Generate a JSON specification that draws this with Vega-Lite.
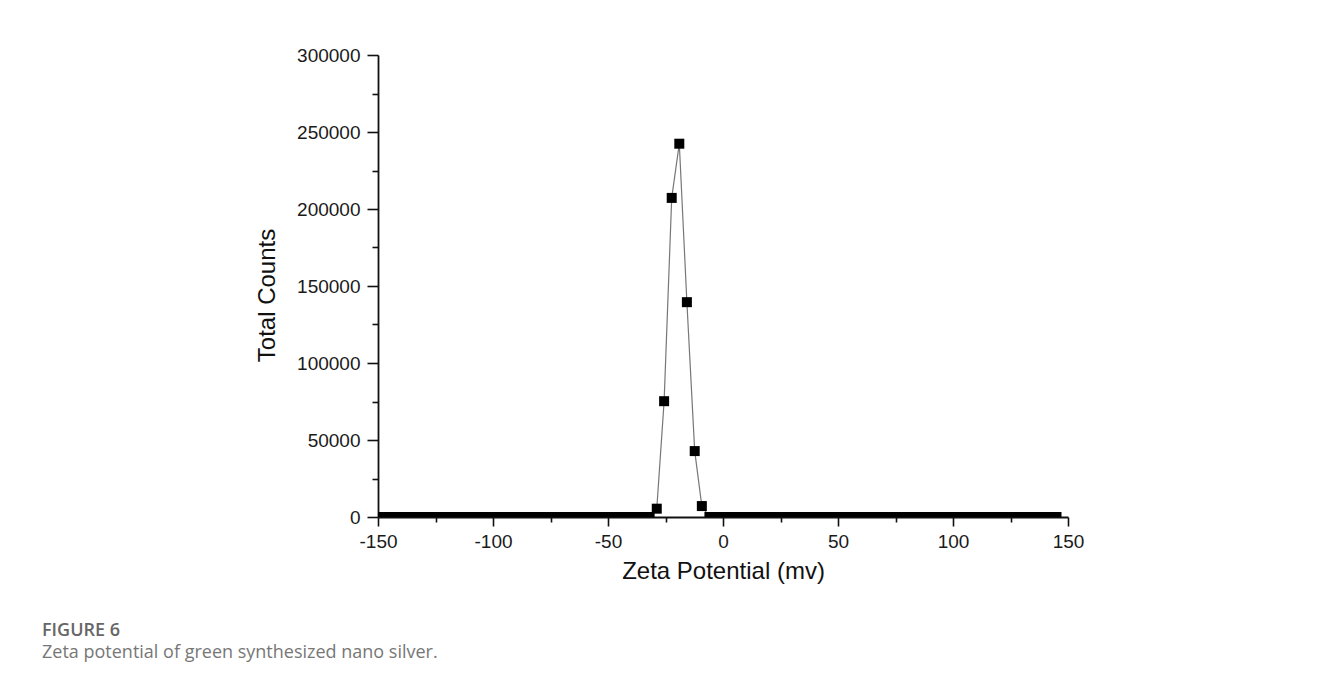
{
  "$schema": "https://vega.github.io/schema/vega-lite/v6.json",
  "width": 690,
  "height": 462,
  "autosize": {"type": "none"},
  "padding": {"left": 378, "top": 55, "right": 254, "bottom": 164},
  "background": "white",
  "config": {
    "view": {"stroke": null},
    "axis": {
      "labelFont": "Liberation Sans",
      "titleFont": "Liberation Sans",
      "labelFontSize": 19,
      "titleFontSize": 24,
      "titleFontWeight": "normal",
      "labelColor": "#1a1a1a",
      "titleColor": "#111111",
      "domainColor": "#111111",
      "domainWidth": 1.8,
      "tickColor": "#111111",
      "tickWidth": 1.6,
      "grid": false
    }
  },
  "title": {
    "text": "FIGURE 6",
    "subtitle": "Zeta potential of green synthesized nano silver.",
    "orient": "bottom",
    "anchor": "start",
    "frame": "group",
    "dx": -336,
    "offset": 39,
    "font": "Open Sans",
    "fontSize": 18,
    "fontWeight": 600,
    "color": "#666666",
    "subtitleFont": "Open Sans",
    "subtitleFontSize": 18,
    "subtitleColor": "#777777",
    "subtitlePadding": 4
  },
  "data": {
    "values": [
      {"zeta": -150.0, "counts": 0}, {"zeta": -146.7, "counts": 0}, {"zeta": -143.4, "counts": 0},
      {"zeta": -140.2, "counts": 0}, {"zeta": -136.9, "counts": 0}, {"zeta": -133.6, "counts": 0},
      {"zeta": -130.3, "counts": 0}, {"zeta": -127.0, "counts": 0}, {"zeta": -123.8, "counts": 0},
      {"zeta": -120.5, "counts": 0}, {"zeta": -117.2, "counts": 0}, {"zeta": -113.9, "counts": 0},
      {"zeta": -110.6, "counts": 0}, {"zeta": -107.4, "counts": 0}, {"zeta": -104.1, "counts": 0},
      {"zeta": -100.8, "counts": 0}, {"zeta": -97.5, "counts": 0}, {"zeta": -94.2, "counts": 0},
      {"zeta": -91.0, "counts": 0}, {"zeta": -87.7, "counts": 0}, {"zeta": -84.4, "counts": 0},
      {"zeta": -81.1, "counts": 0}, {"zeta": -77.8, "counts": 0}, {"zeta": -74.6, "counts": 0},
      {"zeta": -71.3, "counts": 0}, {"zeta": -68.0, "counts": 0}, {"zeta": -64.7, "counts": 0},
      {"zeta": -61.4, "counts": 0}, {"zeta": -58.2, "counts": 0}, {"zeta": -54.9, "counts": 0},
      {"zeta": -51.6, "counts": 0}, {"zeta": -48.3, "counts": 0}, {"zeta": -45.0, "counts": 0},
      {"zeta": -41.8, "counts": 0}, {"zeta": -38.5, "counts": 0}, {"zeta": -35.2, "counts": 0},
      {"zeta": -31.9, "counts": 0},
      {"zeta": -28.8, "counts": 5400},
      {"zeta": -25.6, "counts": 75200},
      {"zeta": -22.3, "counts": 207200},
      {"zeta": -19.0, "counts": 242400},
      {"zeta": -15.7, "counts": 139500},
      {"zeta": -12.3, "counts": 42800},
      {"zeta": -9.2, "counts": 7100},
      {"zeta": -5.9, "counts": 0}, {"zeta": -2.6, "counts": 0}, {"zeta": 0.6, "counts": 0},
      {"zeta": 3.9, "counts": 0}, {"zeta": 7.2, "counts": 0}, {"zeta": 10.5, "counts": 0},
      {"zeta": 13.8, "counts": 0}, {"zeta": 17.0, "counts": 0}, {"zeta": 20.3, "counts": 0},
      {"zeta": 23.6, "counts": 0}, {"zeta": 26.9, "counts": 0}, {"zeta": 30.2, "counts": 0},
      {"zeta": 33.4, "counts": 0}, {"zeta": 36.7, "counts": 0}, {"zeta": 40.0, "counts": 0},
      {"zeta": 43.3, "counts": 0}, {"zeta": 46.6, "counts": 0}, {"zeta": 49.8, "counts": 0},
      {"zeta": 53.1, "counts": 0}, {"zeta": 56.4, "counts": 0}, {"zeta": 59.7, "counts": 0},
      {"zeta": 63.0, "counts": 0}, {"zeta": 66.2, "counts": 0}, {"zeta": 69.5, "counts": 0},
      {"zeta": 72.8, "counts": 0}, {"zeta": 76.1, "counts": 0}, {"zeta": 79.4, "counts": 0},
      {"zeta": 82.6, "counts": 0}, {"zeta": 85.9, "counts": 0}, {"zeta": 89.2, "counts": 0},
      {"zeta": 92.5, "counts": 0}, {"zeta": 95.8, "counts": 0}, {"zeta": 99.0, "counts": 0},
      {"zeta": 102.3, "counts": 0}, {"zeta": 105.6, "counts": 0}, {"zeta": 108.9, "counts": 0},
      {"zeta": 112.2, "counts": 0}, {"zeta": 115.4, "counts": 0}, {"zeta": 118.7, "counts": 0},
      {"zeta": 122.0, "counts": 0}, {"zeta": 125.3, "counts": 0}, {"zeta": 128.6, "counts": 0},
      {"zeta": 131.8, "counts": 0}, {"zeta": 135.1, "counts": 0}, {"zeta": 138.4, "counts": 0},
      {"zeta": 141.7, "counts": 0}, {"zeta": 145.0, "counts": 0}
    ]
  },
  "encoding": {
    "x": {
      "field": "zeta",
      "type": "quantitative",
      "scale": {"domain": [-150, 150], "nice": false, "zero": false},
      "axis": {
        "title": "Zeta Potential (mv)",
        "values": [-150, -125, -100, -75, -50, -25, 0, 25, 50, 75, 100, 125, 150],
        "labelExpr": "datum.value % 50 === 0 ? '' + datum.value : ''",
        "tickSize": {"condition": {"test": "datum.value % 50 === 0", "value": 9}, "value": 5},
        "labelPadding": 6,
        "labelFlush": false,
        "labelOverlap": false,
        "titlePadding": 8
      }
    },
    "y": {
      "field": "counts",
      "type": "quantitative",
      "scale": {"domain": [0, 300000], "nice": false},
      "axis": {
        "title": "Total Counts",
        "values": [0, 25000, 50000, 75000, 100000, 125000, 150000, 175000, 200000, 225000, 250000, 275000, 300000],
        "labelExpr": "datum.value % 50000 === 0 ? '' + datum.value : ''",
        "tickSize": {"condition": {"test": "datum.value % 50000 === 0", "value": 11}, "value": 6},
        "labelPadding": 7,
        "labelFlush": false,
        "labelOverlap": false,
        "titlePadding": 17,
        "titleY": 240
      }
    }
  },
  "layer": [
    {"mark": {"type": "line", "color": "#777777", "strokeWidth": 1.2, "clip": true}},
    {"mark": {"type": "point", "shape": "square", "filled": true, "color": "#000000", "opacity": 1, "size": 100, "clip": true}}
  ]
}
